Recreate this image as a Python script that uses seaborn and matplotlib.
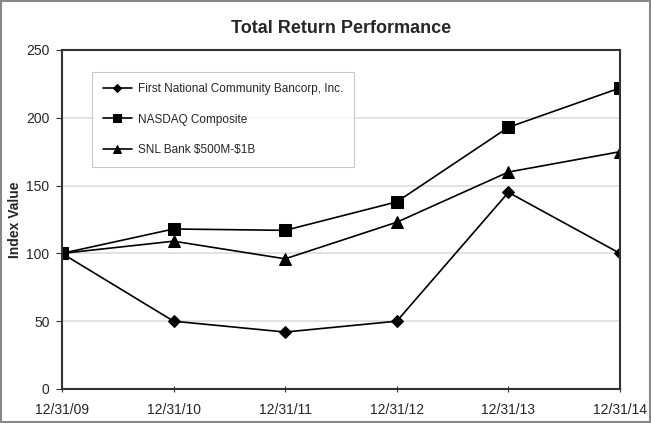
import matplotlib
matplotlib.use("Agg")
import matplotlib.pyplot as plt
import seaborn as sns
import pandas as pd
from matplotlib.patches import Rectangle

dates = ["12/31/09", "12/31/10", "12/31/11", "12/31/12", "12/31/13", "12/31/14"]
first_national = [100, 50, 42, 50, 145, 100]
nasdaq = [100, 118, 117, 138, 193, 222]
snl_bank = [100, 109, 96, 123, 160, 175]
series_names = ["First National Community Bancorp, Inc.", "NASDAQ Composite", "SNL Bank \\$500M-\\$1B"]
markers = ["D", "s", "^"]
marker_sizes = [6, 8, 8]

sns.set_style("white")
plt.rcParams['font.family'] = ['Liberation Sans', 'DejaVu Sans']

rows = []
for name, vals in zip(series_names, [first_national, nasdaq, snl_bank]):
    for i, v in enumerate(vals):
        rows.append({"x": i, "value": v, "series": name})
df = pd.DataFrame(rows)

fig = plt.figure(figsize=(6.51, 4.23), dpi=100)
ax = fig.add_axes([0.0952, 0.0804, 0.8572, 0.8014])

for name, m, ms in zip(series_names, markers, marker_sizes):
    sub = df[df["series"] == name]
    sns.lineplot(data=sub, x="x", y="value", ax=ax, color="black", marker=m,
                 markersize=ms, markeredgecolor="black", linewidth=1.2, label=name)

ax.set_xlim(0, 5)
ax.set_ylim(0, 250)
ax.set_xticks(range(len(dates)))
ax.set_xticklabels(dates, fontsize=10)
ax.set_yticks([0, 50, 100, 150, 200, 250])
ax.tick_params(axis='y', labelsize=10, length=4, direction='out', left=True, color='#333333', pad=5)
ax.tick_params(axis='x', length=4, direction='inout', bottom=True, color='#333333', pad=8)
ax.yaxis.grid(True, color="#dddddd", linewidth=1.2)
ax.set_axisbelow(True)
for s in ax.spines.values():
    s.set_color("#333333")
    s.set_linewidth(1.5)
ax.set_xlabel("")
ax.set_ylabel("Index Value", fontsize=10, fontweight="bold")
ax.yaxis.set_label_coords(-0.072, 0.5)
ax.set_title("Total Return Performance", fontsize=13, fontweight="bold", pad=12)

leg = ax.legend(loc="upper left", bbox_to_anchor=(0.054, 0.935), frameon=True, fancybox=False,
                fontsize=8.5, handlelength=2.5, labelspacing=1.6, borderpad=0.9, handletextpad=0.5,
                borderaxespad=0, markerscale=0.65)
leg.get_frame().set_edgecolor("#bbbbbb")
leg.get_frame().set_linewidth(0.8)

fig.patches.append(Rectangle((0.001, 0.002), 0.997, 0.995, transform=fig.transFigure,
                             fill=False, edgecolor="#888888", linewidth=1.5))

fig.savefig("out.png", dpi=100)
